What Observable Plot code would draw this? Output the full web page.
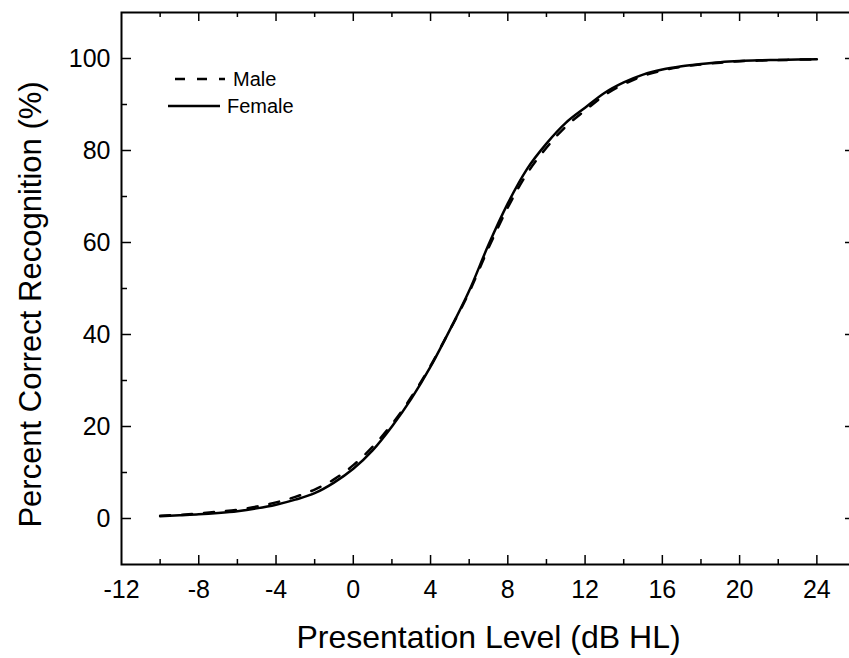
<!DOCTYPE html>
<html><head><meta charset="utf-8">
<script src="https://cdn.jsdelivr.net/npm/d3@7"></script>
<script src="https://cdn.jsdelivr.net/npm/@observablehq/plot@0.6"></script>
<style>html,body{margin:0;padding:0;overflow:hidden;background:#fff}</style>
</head><body><div id="chart"></div>
<script>
// ---- data ----
const levels = [-10,-9,-8,-7,-6,-5,-4,-3,-2,-1,0,1,2,3,4,5,6,7,8,9,10,11,12,13,14,15,16,17,18,19,20,21,22,23,24];
const female = [0.5,0.7,0.9,1.2,1.6,2.2,3.0,4.1,5.5,7.8,10.8,14.8,20.0,26.0,33.0,41.0,49.5,59.5,68.5,76.0,81.5,86.0,89.3,92.5,94.8,96.5,97.6,98.3,98.8,99.2,99.45,99.6,99.7,99.8,99.85];
const male = [0.6,0.8,1.1,1.5,1.9,2.6,3.5,4.7,6.3,8.5,11.6,15.6,20.5,26.4,33.2,41.0,49.2,58.8,67.6,75.0,80.6,85.2,88.7,92.0,94.4,96.2,97.4,98.2,98.7,99.1,99.4,99.55,99.65,99.75,99.8];
const seriesNames = ["Male", "Female"];
const xLabels = [-12,-8,-4,0,4,8,12,16,20,24];
const xMajorTicks = [-8,-4,0,4,8,12,16,20,24];
const xMinorTicks = [-10,-6,-2,2,6,10,14,18,22];
const yLabels = [0,20,40,60,80,100];
const yMinorTicks = [10,30,50,70,90];
const xTitle = "Presentation Level (dB HL)";
const yTitle = "Percent Correct Recognition (%)";

// ---- layout ----
const W = 860, H = 658, mL = 121, mR = 5, mT = 12, mB = 94;
const iw = W - mL - mR, ih = H - mT - mB;
const font = "'Liberation Sans', Arial, Helvetica, sans-serif";
const majorLen = 9, minorLen = 5;

const maleRows = levels.map((x, i) => ({series: seriesNames[0], x, y: male[i]}));
const femaleRows = levels.map((x, i) => ({series: seriesNames[1], x, y: female[i]}));

const tickStyle = {stroke: "#000", strokeWidth: 1.5};

const plot = Plot.plot({
  width: W, height: H,
  marginLeft: mL, marginRight: mR, marginTop: mT, marginBottom: mB,
  style: {fontFamily: font, background: "#fff", color: "#000", overflow: "visible", maxWidth: "none"},
  x: {domain: [-12, 26], axis: null},
  y: {domain: [-10, 110], axis: null},
  marks: [
    Plot.line(maleRows, {x: "x", y: "y", stroke: "#000", strokeWidth: 2.5, strokeDasharray: "10,12", curve: "monotone-x"}),
    Plot.line(femaleRows, {x: "x", y: "y", stroke: "#000", strokeWidth: 2.5, curve: "monotone-x"}),
    // inward ticks on all four sides
    Plot.tickX(xMajorTicks, {x: d => d, insetTop: ih - majorLen, ...tickStyle}),
    Plot.tickX(xMinorTicks, {x: d => d, insetTop: ih - minorLen, ...tickStyle}),
    Plot.tickX(xMajorTicks, {x: d => d, insetBottom: ih - majorLen, ...tickStyle}),
    Plot.tickX(xMinorTicks, {x: d => d, insetBottom: ih - minorLen, ...tickStyle}),
    Plot.tickY(yLabels, {y: d => d, insetRight: iw - (majorLen + 1), ...tickStyle}),
    Plot.tickY(yMinorTicks, {y: d => d, insetRight: iw - (minorLen + 1), ...tickStyle}),
    Plot.tickY(yLabels, {y: d => d, insetLeft: iw - (majorLen + 1), ...tickStyle}),
    Plot.tickY(yMinorTicks, {y: d => d, insetLeft: iw - (minorLen + 1), ...tickStyle}),
    Plot.frame({stroke: "#000", strokeWidth: 2}),
    Plot.axisX(xLabels, {anchor: "bottom", tickSize: 0, tickPadding: 16, fontSize: 25, tickFormat: d => String(d), label: null}),
    Plot.axisY(yLabels, {anchor: "left", tickSize: 0, tickPadding: 11, fontSize: 25, tickFormat: d => String(d), label: null}),
    Plot.text([xTitle], {text: d => d, frameAnchor: "bottom", textAnchor: "middle", lineAnchor: "bottom", dy: 83, fontSize: 32}),
    Plot.text([yTitle], {text: d => d, frameAnchor: "left", textAnchor: "middle", lineAnchor: "bottom", rotate: -90, dx: 40 - mL, dy: 16, fontSize: 31})
  ]
});
plot.style.maxWidth = "none";
plot.style.width = W + "px";
plot.style.height = H + "px";

// ---- legend (inside the plot, upper left) ----
const svg = d3.select(plot);
const legend = svg.append("g").attr("font-family", font).attr("font-size", 20).attr("text-anchor", "start");
const legendItems = [
  {name: seriesNames[0], dash: "10,12", x1: 175, x2: 225, y: 79, tx: 233},
  {name: seriesNames[1], dash: null, x1: 168, x2: 220, y: 106, tx: 227}
];
legendItems.forEach(it => {
  legend.append("line").attr("x1", it.x1).attr("x2", it.x2).attr("y1", it.y).attr("y2", it.y)
    .attr("stroke", "#000").attr("stroke-width", 2.5).attr("stroke-dasharray", it.dash);
  legend.append("text").attr("x", it.tx).attr("y", it.y).attr("dy", "0.35em")
    .attr("text-anchor", "start").attr("fill", "#000").text(it.name);
});

document.getElementById("chart").appendChild(plot);
</script>
</body></html>
